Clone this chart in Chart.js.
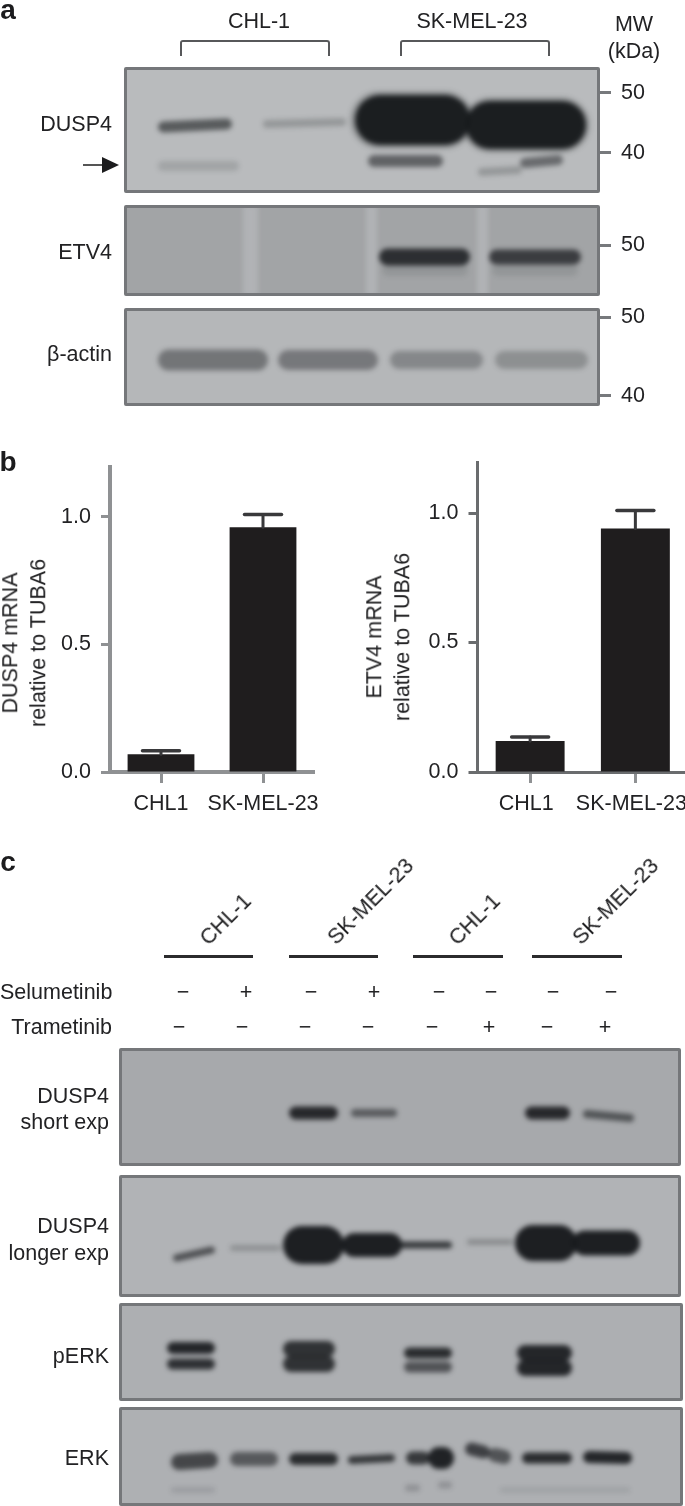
<!DOCTYPE html>
<html><head><meta charset="utf-8">
<script src="https://cdn.jsdelivr.net/npm/chart.js@4"></script>
<style>
html,body{margin:0;padding:0;background:#fff;width:685px;height:1506px;overflow:hidden}
#root{position:relative;width:685px;height:1506px;overflow:hidden;font-family:"Liberation Sans",Arial,sans-serif;color:#222224}
.t{position:absolute;white-space:nowrap;font-size:21.5px;line-height:1;filter:blur(.35px)}
.panel{position:absolute;box-sizing:border-box;overflow:hidden;border:3px solid #75777a;border-radius:2px;filter:blur(.7px)}
.panel canvas{position:absolute;left:-3px;top:-3px;filter:blur(2.4px)}
.abs{position:absolute}
.rule{position:absolute;background:#2b2b2d;height:2.5px;filter:blur(.3px)}
</style></head><body><div id="root"></div>
<script>
// ---------- bar chart data (panel b) ----------
const barCategories = ['CHL1','SK-MEL-23'];
const dusp4Mrna = [0.07,0.96];
const dusp4MrnaErrTop = [0.083,1.01];
const etv4Mrna = [0.12,0.94];
const etv4MrnaErrTop = [0.135,1.01];
const yTicks = [0,0.5,1.0];

// ---------- blot bands: [gel start, gel end, row at start, row at end, thickness, signal] ----------
const aDusp4Bands = [
 [158,232,127,124,11,.6],[263,346,124,122,8,.22],
 [158,239,166,166,10,.14],[368,443,161,161,12,.55],[478,522,172,170,8,.22],[520,563,163,160,10,.5],
 [350,474,120,120,58,.22],[462,590,125,125,56,.22],
 [355,470,120,120,50,.97],[466,586,125,125,48,.97]];
const aEtv4Bands = [
 [379,470,257,257,17,.85],[489,581,257,257,15,.75],
 [382,468,270,270,12,.1],[492,578,270,270,12,.1]];
const aEtv4Streaks = [[243,258],[366,377],[477,488]];
const aActinBands = [
 [158,268,360,360,21,.42],[278,378,360,360,20,.4],[390,483,360,360,18,.3],[495,588,360,360,18,.25]];
const cShortBands = [
 [289,338,1113,1113,13,.9],[351,397,1113,1113,8,.55],[525,570,1113,1113,13,.9],[583,634,1114,1118,8,.6]];
const cLongBands = [
 [173,215,1258,1250,7,.65],[230,281,1248,1248,6,.22],
 [283,344,1245,1245,38,.97],[342,402,1245,1245,24,.97],[400,452,1245,1245,7,.8],[467,513,1242,1242,6,.25],
 [515,577,1243,1243,36,.97],[572,640,1243,1243,25,.97]];
const cPerkBands = [
 [167,215,1348,1348,12,.92],[167,215,1364,1364,11,.85],
 [283,335,1349,1349,16,.84],[283,335,1364,1364,16,.84],
 [404,452,1353,1353,11,.88],[404,452,1367,1367,11,.62],
 [517,572,1353,1353,16,.92],[517,572,1368,1368,16,.92]];
const cErkBands = [
 [171,218,1462,1460,16,.7],[230,278,1459,1459,14,.58],[289,338,1459,1459,12,.88],[348,395,1460,1458,8,.8],
 [406,430,1458,1458,13,.8],[428,454,1458,1458,22,.95],[465,490,1449,1452,13,.75],[488,511,1455,1457,14,.62],
 [522,572,1458,1458,11,.88],[583,632,1457,1458,12,.92],
 [171,215,1490,1490,6,.12],[405,420,1488,1488,7,.2],[438,452,1485,1485,7,.2],[500,630,1490,1490,5,.1]];

// ---------- MW axis data ----------
const mwTicksFull = [50,40];
const mwTicksEtv4 = [50];

// ---------- labels ----------
const selumetinibSigns = ['−','+','−','+','−','−','−','−'];
const trametinibSigns  = ['−','−','−','−','−','+','−','+'];
const selumetinibX = [183,246,311,374,439,491,553,611];
const trametinibX  = [179,242,305,368,432,489,547,605];

const root = document.getElementById('root');
function text(s,x,y,anchor='c',extra={}){
  const e=document.createElement('div');e.className='t';e.textContent=s;
  const tx=anchor==='l'?'0':anchor==='r'?'-100%':'-50%';
  e.style.left=x+'px';e.style.top=y+'px';
  e.style.transform=`translate(${tx},-50%)`+(extra.rot?` rotate(${extra.rot}deg)`:'');
  if(extra.bold){e.style.fontWeight='700';e.style.color='#1c1c1e'}
  if(extra.size)e.style.fontSize=extra.size+'px';
  root.appendChild(e);return e;
}
function mkCanvas(parent,x,y,w,h){
  const c=document.createElement('canvas');c.width=w;c.height=h;
  c.style.cssText=`position:absolute;left:${x}px;top:${y}px;width:${w}px;height:${h}px`;
  parent.appendChild(c);return c;
}
function blot(x0,y0,x1,y1,bg,bands,streaks,streakColor){
  const p=document.createElement('div');p.className='panel';
  p.style.cssText=`left:${x0}px;top:${y0}px;width:${x1-x0}px;height:${y1-y0}px;background:${bg}`;
  root.appendChild(p);
  const c=document.createElement('canvas');c.width=x1-x0;c.height=y1-y0;
  c.style.width=(x1-x0)+'px';c.style.height=(y1-y0)+'px';p.appendChild(c);
  const ds=[];
  (streaks||[]).forEach(s=>{
    const m=(s[0]+s[1])/2;
    ds.push({data:[{x:m,y:y0},{x:m,y:y1}],borderColor:streakColor,borderWidth:s[1]-s[0],pointRadius:0,tension:0});
  });
  bands.forEach(b=>{
    const [a,e,r0,r1,t,sig]=b;const h=Math.min(t/2,(e-a)/2);
    ds.push({data:[{x:a+h,y:r0},{x:e-h,y:r1}],borderColor:`rgba(24,26,29,${sig})`,borderWidth:t,
      borderCapStyle:'round',pointRadius:0,tension:0});
  });
  new Chart(c,{type:'line',data:{datasets:ds},options:{responsive:false,animation:false,parsing:false,
    layout:{padding:0},plugins:{legend:{display:false},tooltip:{enabled:false}},
    scales:{x:{type:'linear',display:false,min:x0,max:x1},y:{type:'linear',display:false,min:y0,max:y1,reverse:true}}}});
}
function mwAxis(y0,y1,lo,hi,ticks){
  const c=mkCanvas(root,590,y0,95,y1-y0);
  c.style.filter='blur(.35px)';
  new Chart(c,{type:'scatter',data:{datasets:[{data:[]}]},options:{responsive:false,animation:false,
    layout:{padding:0},plugins:{legend:{display:false},tooltip:{enabled:false}},
    scales:{x:{display:false,min:0,max:1},
      y:{position:'right',min:lo,max:hi,border:{display:false},
        afterBuildTicks(s){s.ticks=ticks.map(v=>({value:v}))},
        afterFit(s){s.width=85;s.paddingTop=s.paddingBottom=0},
        grid:{drawOnChartArea:false,tickLength:11,tickWidth:3,tickColor:'#77797c'},
        ticks:{padding:10,color:'#222224',font:{family:'Liberation Sans',size:21.5}}}}}});
}
const errorBars={id:'errorBars',afterDatasetsDraw(ch,a,o){
  const ctx=ch.ctx,m=ch.getDatasetMeta(0),ys=ch.scales.y;
  ctx.save();ctx.strokeStyle=o.color;ctx.lineCap='round';
  o.tops.forEach((v,i)=>{
    const x=m.data[i].x,yb=ys.getPixelForValue(ch.data.datasets[0].data[i]),yt=ys.getPixelForValue(v);
    ctx.lineWidth=3;ctx.beginPath();ctx.moveTo(x,yb);ctx.lineTo(x,yt);ctx.stroke();
    ctx.lineWidth=3.5;ctx.beginPath();ctx.moveTo(x-o.cap/2,yt);ctx.lineTo(x+o.cap/2,yt);ctx.stroke();
  });ctx.restore();
}};
function barChart(x,y,w,h,o){
  const c=mkCanvas(root,x,y,w,h);c.style.filter='blur(.5px)';
  new Chart(c,{type:'bar',plugins:[errorBars],
    data:{labels:barCategories,datasets:[{data:o.values,backgroundColor:'#1f1d1e',barPercentage:.655,categoryPercentage:1}]},
    options:{responsive:false,animation:false,layout:{padding:{top:o.top,right:o.right,left:0,bottom:0}},
      plugins:{legend:{display:false},tooltip:{enabled:false},errorBars:{tops:o.tops,cap:o.cap,color:'#39393b'}},
      scales:{
        x:{border:{display:true,color:o.axis,width:o.lw},
           afterFit(s){s.height=o.bottom;s.paddingLeft=s.paddingRight=0},
           grid:{offset:false,drawOnChartArea:false,tickLength:11,tickWidth:3,tickColor:'#8f9193'},
           ticks:{padding:8,labelOffset:o.shift,maxRotation:0,autoSkip:false,color:'#222224',font:{family:'Liberation Sans',size:21.5}}},
        y:{min:0,max:o.max,border:{display:true,color:o.axis,width:o.lw},
           afterBuildTicks(s){s.ticks=yTicks.map(v=>({value:v}))},
           afterFit(s){s.width=o.left;s.paddingTop=s.paddingBottom=0},
           grid:{drawOnChartArea:false,tickLength:9,tickWidth:3,tickColor:o.axis},
           ticks:{padding:10,color:'#222224',font:{family:'Liberation Sans',size:21.5},callback:v=>v.toFixed(1)}}
      }}});
}

// ---- panel a ----
text('a',8,10,'c',{bold:true,size:28});
text('CHL-1',259,22);text('SK-MEL-23',472,22);
text('MW',634,25);text('(kDa)',634,52);
[[181,327],[401,547]].forEach(b=>{const d=document.createElement('div');
  d.style.cssText=`position:absolute;left:${b[0]-1}px;top:40px;width:${b[1]-b[0]}px;height:14px;border:2.5px solid #57585a;border-bottom:none;border-radius:3px 3px 0 0;filter:blur(.5px)`;
  root.appendChild(d)});
blot(124,67,600,193,'#b9bbbd',aDusp4Bands);
blot(124,205,600,296,'#a2a4a6',aEtv4Bands,aEtv4Streaks,'rgba(190,192,194,.55)');
blot(124,308,600,406,'#b5b7b9',aActinBands);
mwAxis(67,193,33.33,54.33,mwTicksFull);
mwAxis(205,296,41.5,56.67,mwTicksEtv4);
mwAxis(308,406,38.73,51.14,mwTicksFull);
text('DUSP4',112,125,'r');text('ETV4',112,253,'r');text('β-actin',112,355,'r');
root.insertAdjacentHTML('beforeend','<svg class="abs" style="left:80px;top:155px;filter:blur(.5px)" width="42" height="20"><line x1="3" y1="10" x2="26" y2="10" stroke="#555" stroke-width="2"/><path d="M22 2 L39 10 L22 18 Z" fill="#1c1c1e"/></svg>');

// ---- panel b ----
text('b',8,462,'c',{bold:true,size:28});
barChart(0,455,345,370,{values:dusp4Mrna,tops:dusp4MrnaErrTop,top:12,right:31,left:110,bottom:53,max:1.196,cap:37,axis:'#8f9193',lw:4,shift:0});
barChart(350,450,350,375,{values:etv4Mrna,tops:etv4MrnaErrTop,top:12,right:12,left:127.5,bottom:53,max:1.197,cap:37,axis:'#6a6c6e',lw:3,shift:-4});
text('DUSP4 mRNA',11,643,'c',{rot:-90});text('relative to TUBA6',39,643,'c',{rot:-90});
text('ETV4 mRNA',375,637,'c',{rot:-90});text('relative to TUBA6',403,637,'c',{rot:-90});

// ---- panel c ----
text('c',8,862,'c',{bold:true,size:28});
text('CHL-1',226,920,'c',{rot:-45});text('SK-MEL-23',371,902,'c',{rot:-45});
text('CHL-1',475,920,'c',{rot:-45});text('SK-MEL-23',616,902,'c',{rot:-45});
[[164,253],[289,378],[413,503],[532,622]].forEach(r=>{const d=document.createElement('div');d.className='rule';
  d.style.left=r[0]+'px';d.style.top='955px';d.style.width=(r[1]-r[0])+'px';root.appendChild(d)});
text('Selumetinib',0,993,'l');text('Trametinib',112,1028,'r');
selumetinibSigns.forEach((s,i)=>text(s,selumetinibX[i],993));
trametinibSigns.forEach((s,i)=>text(s,trametinibX[i],1028));
blot(119,1048,681,1166,'#a7a9ac',cShortBands);
blot(119,1175,681,1297,'#b1b3b6',cLongBands);
blot(119,1303,683,1401,'#adafb2',cPerkBands);
blot(119,1407,683,1506,'#aeb0b3',cErkBands);
text('DUSP4',109,1097,'r');text('short exp',109,1123,'r');
text('DUSP4',109,1227,'r');text('longer exp',109,1254,'r');
text('pERK',109,1357,'r');text('ERK',109,1459,'r');
</script></body></html>
